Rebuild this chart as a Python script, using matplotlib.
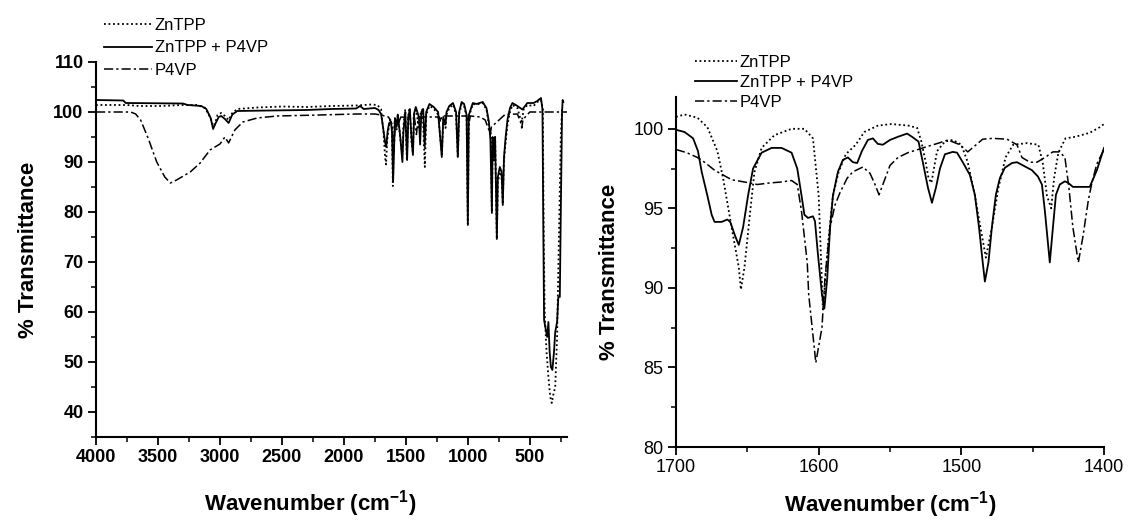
import numpy as np
import matplotlib.pyplot as plt
from matplotlib.ticker import MultipleLocator

plt.rcParams['font.family'] = ['Liberation Sans', 'DejaVu Sans']
plt.rcParams['mathtext.fontset'] = 'custom'
plt.rcParams['mathtext.rm'] = 'Liberation Sans:bold'
plt.rcParams['mathtext.default'] = 'rm'

labels = ['ZnTPP', 'ZnTPP + P4VP', 'P4VP']

# ---- full spectrum (left panel) ----
wn_zntpp = [4000, 3750, 3650, 3480, 3300, 3180, 3120, 3080, 3060, 3045, 3020, 2990, 2960, 2930,
            2900, 2860, 2700, 2500, 2300, 2100, 1900, 1780, 1730, 1700, 1690, 1680, 1668, 1660,
            1652, 1640, 1625, 1612, 1605, 1598, 1590, 1575, 1565, 1540, 1528, 1520, 1505, 1492,
            1482, 1470, 1455, 1443, 1435, 1420, 1390, 1380, 1365, 1347, 1335, 1310, 1280, 1240,
            1210, 1198, 1180, 1172, 1150, 1120, 1095, 1081, 1070, 1050, 1030, 1010, 1000, 992,
            960, 930, 880, 850, 830, 815, 806, 800, 790, 780, 766, 758, 740, 728, 718, 710, 695,
            680, 660, 640, 600, 580, 565, 550, 520, 470, 440, 410, 395, 388, 380, 365, 350, 335,
            323, 310, 295, 280, 265, 250, 240, 232]
t_zntpp = [101.4, 101.4, 101.2, 101.2, 101.4, 101.4, 100.8, 99.0, 97.6, 97.2, 99.4, 99.8, 99.2, 98.4,
           99.8, 100.6, 100.9, 101.1, 101.0, 101.2, 101.3, 101.5, 101.4, 100.6, 98.0, 96.0, 91.0, 89.5,
           94.0, 96.5, 98.5, 97.0, 85.2, 93.0, 98.5, 96.5, 99.5, 93.5, 91.5, 97.0, 100.5, 90.6,
           99.0, 100.8, 94.0, 91.8, 99.5, 100.4, 96.5, 100.0, 100.5, 89.0, 99.5, 101.2, 100.8, 99.5,
           91.5, 98.5, 96.8, 99.5, 100.8, 101.5, 99.5, 91.0, 99.6, 101.6, 101.2, 99.0, 77.6, 99.0,
           101.6, 101.5, 101.8, 100.5, 97.5, 96.0, 80.0, 94.0, 90.0, 95.0, 74.6, 86.0, 88.0, 87.0, 81.6, 90.0, 94.0,
           97.5, 100.0, 101.4, 100.8, 99.0, 98.0, 100.5, 101.4, 101.2, 102.0, 102.4, 100.5, 75.0, 60.0, 52.0, 47.0, 43.0,
           41.8, 43.5, 45.0, 55.0, 75.0, 95.0, 100.5, 101.0]

wn_mix = [4000, 3780, 3760, 3300, 3260, 3150, 3110, 3075, 3055, 3040, 3010, 2990, 2960, 2930,
          2900, 2860, 2600, 2300, 2100, 1900, 1870, 1840, 1750, 1720, 1700, 1690, 1668, 1658,
          1648, 1635, 1620, 1612, 1603, 1596, 1588, 1575, 1565, 1545, 1528, 1520, 1505, 1490,
          1480, 1468, 1455, 1443, 1433, 1420, 1395, 1385, 1375, 1360, 1348, 1336, 1310, 1275,
          1240, 1210, 1198, 1180, 1172, 1150, 1120, 1095, 1081, 1070, 1050, 1030, 1010, 1000,
          992, 960, 930, 880, 850, 830, 818, 806, 800, 790, 780, 766, 758, 742, 728, 718, 708,
          695, 680, 660, 640, 600, 560, 520, 470, 440, 410, 398, 392, 385, 375, 360, 350, 340,
          330, 318, 305, 295, 280, 270, 258, 250, 240, 235, 230]
t_mix = [102.4, 102.3, 101.8, 101.7, 101.4, 101.2, 100.6, 98.8, 96.6, 97.5, 99.0, 99.2, 98.6, 97.8,
         99.5, 100.2, 100.3, 100.4, 100.6, 100.7, 101.2, 100.6, 100.8, 100.4, 99.6, 98.0, 94.0, 93.0,
         96.0, 97.8, 98.0, 96.0, 86.0, 92.0, 98.8, 97.0, 99.5, 95.0, 90.0, 96.0, 100.0, 90.4,
         99.0, 100.6, 95.0, 91.4, 99.8, 101.0, 99.0, 93.5, 100.0, 100.6, 93.0, 100.0, 101.6, 101.0,
         100.0, 91.0, 99.0, 97.5, 100.0, 101.2, 101.8, 100.0, 91.0, 100.0, 102.0, 101.6, 99.4, 77.4,
         99.4, 101.8, 101.6, 102.0, 100.8, 98.0, 94.5, 79.8, 95.0, 91.0, 95.0, 74.6, 87.0, 89.0, 88.0, 81.4, 91.0,
         95.0, 98.5, 100.8, 101.8, 101.2, 100.5, 101.8, 101.8, 102.2, 102.8, 100.5, 80.0, 58.4, 57.0, 55.0, 58.0, 52.0,
         49.0, 48.4, 52.0, 56.0, 58.0, 63.0, 63.0, 80.0, 100.0, 102.4, 102.0]

wn_p4vp = [4000, 3720, 3680, 3640, 3580, 3510, 3445, 3400, 3350, 3240, 3160, 3080, 3000, 2960,
           2930, 2880, 2815, 2700, 2540, 2200, 1900, 1750, 1700, 1640, 1610, 1597, 1585, 1557,
           1540, 1430, 1415, 1400, 1230, 1220, 1210, 1010, 993, 980, 900, 860, 830, 820, 810,
           700, 600, 575, 565, 555, 500, 200]
t_p4vp = [100.0, 100.0, 99.6, 98.4, 94.8, 90.0, 87.0, 85.8, 86.4, 88.0, 89.8, 92.4, 93.6, 95.0,
          93.8, 96.4, 98.0, 98.8, 99.2, 99.4, 99.6, 99.6, 99.4, 99.0, 97.5, 92.0, 98.0, 98.0,
          99.0, 98.8, 95.5, 99.0, 99.0, 98.0, 99.2, 99.2, 97.5, 99.2, 99.0, 98.4, 96.4, 95.5, 97.0,
          99.5, 99.6, 98.0, 96.8, 98.5, 100.0, 100.0]

# ---- expanded region 1700-1400 (right panel) ----
wn_zntpp_z = [1700, 1694, 1685, 1678, 1671, 1667, 1661, 1656, 1654.5, 1652, 1648, 1645, 1640, 1631,
              1619, 1610, 1604, 1600, 1597, 1593.5, 1590, 1586, 1581, 1574, 1568, 1558.5, 1549, 1537,
              1531, 1528, 1525, 1523, 1521, 1517, 1511.5, 1506, 1500, 1495.5, 1490.5, 1485.6, 1482.8,
              1478.6, 1474, 1469, 1463.7, 1454, 1446, 1443, 1440, 1437, 1435, 1432, 1427, 1420, 1410,
              1403, 1400]
t_zntpp_z = [100.75, 100.9, 100.7, 100.1, 98.6, 96.9, 93.8, 91.3, 89.9, 91.3, 94.8, 97.3, 98.8, 99.6,
             100.0, 100.0, 99.4, 95.8, 88.6, 92.7, 95.8, 97.3, 98.4, 99.0, 99.8, 100.2, 100.3, 100.2,
             100.06, 99.2, 97.9, 96.9, 96.6, 98.6, 99.2, 99.3, 99.0, 97.9, 95.8, 93.3, 91.9,
             93.8, 96.3, 98.2, 99.0, 99.1, 99.0, 97.9, 95.8, 95.0, 96.9, 98.5, 99.4, 99.5, 99.75,
             100.1, 100.3]

wn_mix_z = [1700, 1694, 1688, 1684.6, 1682, 1678, 1675, 1673, 1668, 1664, 1662, 1658.7, 1656, 1653,
            1649.5, 1646, 1640, 1633, 1626, 1619, 1615, 1612, 1610, 1607.5, 1604, 1602.6, 1600.5,
            1597.7, 1596, 1594, 1592, 1590, 1586.5, 1583, 1579.5, 1576, 1573, 1569.7, 1565.5, 1562,
            1558.5, 1555, 1550, 1544.4, 1538, 1534.6, 1530, 1527, 1523.4, 1520.6, 1517.8, 1515,
            1511.5, 1506, 1503, 1499, 1494, 1490.5, 1487.6, 1485, 1483.5, 1481, 1478.6, 1475.8, 1473,
            1469.5, 1464.5, 1461, 1456.8, 1450.5, 1446.3, 1443.5, 1441.4, 1438, 1435.8, 1433.7, 1431,
            1427.4, 1425, 1421.8, 1417, 1410, 1405, 1400]
t_mix_z = [99.94, 99.8, 99.4, 98.6, 97.3, 95.8, 94.6, 94.15, 94.15, 94.3, 94.15, 93.3, 92.7, 93.8,
           95.8, 97.5, 98.5, 98.8, 98.8, 98.5, 97.5, 95.8, 94.6, 94.4, 94.5, 94.2, 92.1,
           89.6, 88.7, 90.6, 93.8, 95.8, 97.3, 98.05, 98.2, 97.9, 97.85, 98.6, 99.3, 99.4,
           99.05, 99.0, 99.3, 99.5, 99.7, 99.5, 99.2, 97.9, 96.3, 95.35, 96.3, 97.5,
           98.4, 98.55, 98.5, 97.9, 97.1, 95.85, 93.8, 91.6, 90.4, 91.6, 93.8, 95.85, 96.9,
           97.55, 97.85, 97.9, 97.7, 97.4, 97.0, 96.5, 94.8, 91.6, 93.8, 95.85, 96.5,
           96.7, 96.6, 96.35, 96.35, 96.35, 97.4, 98.8]

wn_p4vp_z = [1700, 1692.5, 1685, 1680, 1673, 1667, 1661, 1651.6, 1643, 1634, 1627, 1619, 1615, 1612,
             1608, 1607, 1602, 1597.7, 1595.6, 1592, 1588.6, 1585, 1580, 1576, 1569, 1564, 1560.5,
             1557.7, 1555, 1550, 1544.4, 1537.4, 1530.4, 1523.4, 1516, 1509.4, 1501, 1495.5, 1485,
             1478, 1468, 1461, 1457.5, 1452, 1447, 1441.4, 1435.8, 1431, 1427.4, 1424.6, 1421.8,
             1418, 1414.8, 1411, 1408.5, 1405, 1400]
t_p4vp_z = [98.7, 98.5, 98.2, 97.9, 97.4, 97.1, 96.8, 96.65, 96.5, 96.6, 96.65, 96.75, 96.5, 94.8,
            91.6, 89.6, 85.3, 87.5, 90.6, 93.8, 95.2, 96.0, 96.9, 97.3, 97.6, 97.2, 96.5,
            95.85, 96.5, 97.7, 98.2, 98.5, 98.7, 98.9, 99.1, 99.3, 99.0, 98.55, 99.35,
            99.4, 99.35, 99.0, 98.2, 97.9, 97.9, 98.2, 98.55, 98.55, 98.2, 96.3, 93.8,
            91.6, 93.2, 95.5, 96.6, 97.8, 98.7]

styles = [dict(ls=(0, (1, 1.5)), lw=1.3), dict(ls='-', lw=1.3), dict(ls=(0, (6, 2, 1.5, 2)), lw=1.1)]

fig = plt.figure(figsize=(11.33, 5.2), dpi=100)
W, H = 1133, 520
ax1 = fig.add_axes([96 / W, 1 - 437 / H, (567 - 96) / W, (437 - 62) / H])
ax2 = fig.add_axes([676 / W, 1 - 447 / H, (1104 - 676) / W, (447 - 97) / H])

for x, y, st, lab in zip([wn_zntpp, wn_mix, wn_p4vp], [t_zntpp, t_mix, t_p4vp], styles, labels):
    ax1.plot(x, y, color='black', label=lab, **st)
for x, y, st, lab in zip([wn_zntpp_z, wn_mix_z, wn_p4vp_z], [t_zntpp_z, t_mix_z, t_p4vp_z], styles, labels):
    ax2.plot(x, y, color='black', label=lab, **st)

# Left panel axes
ax1.set_xlim(4000, 200)
ax1.set_ylim(35, 110)
ax1.xaxis.set_major_locator(MultipleLocator(500))
ax1.xaxis.set_minor_locator(MultipleLocator(250))
ax1.yaxis.set_major_locator(MultipleLocator(10))
ax1.yaxis.set_minor_locator(MultipleLocator(5))
ax1.set_xticks([4000, 3500, 3000, 2500, 2000, 1500, 1000, 500])

# Right panel axes
ax2.set_xlim(1700, 1400)
ax2.set_ylim(80, 102)
ax2.xaxis.set_major_locator(MultipleLocator(100))
ax2.xaxis.set_minor_locator(MultipleLocator(50))
ax2.yaxis.set_major_locator(MultipleLocator(5))
ax2.yaxis.set_minor_locator(MultipleLocator(2.5))

for ax, bold in [(ax1, True), (ax2, False)]:
    for s in ['top', 'right']:
        ax.spines[s].set_visible(False)
    for s in ['left', 'bottom']:
        ax.spines[s].set_linewidth(1.5)
    ax.tick_params(which='major', direction='out', length=6, width=1.3, labelsize=13, pad=3)
    ax.tick_params(which='minor', direction='out', length=3.5, width=1.1)
    for lbl in ax.get_xticklabels() + ax.get_yticklabels():
        lbl.set_fontweight('bold' if bold else 'normal')
    ax.set_xlabel('Wavenumber (cm$^{-1}$)', fontsize=16, fontweight='bold')
    ax.set_ylabel('% Transmittance', fontsize=16, fontweight='bold')

ax1.xaxis.set_label_coords(0.455, -0.135)
ax1.yaxis.set_label_coords(-0.12, 0.5)
ax2.xaxis.set_label_coords(0.5, -0.12)
ax2.yaxis.set_label_coords(-0.13, 0.5)

ax1.legend(frameon=False, loc='upper left', bbox_to_anchor=(104 / W, 1 - 18 / H),
           bbox_transform=fig.transFigure, fontsize=12, handlelength=2.9, handletextpad=0.15,
           labelspacing=0.45, borderpad=0, borderaxespad=0)
ax2.legend(frameon=False, loc='upper left', bbox_to_anchor=(695 / W, 1 - 55 / H),
           bbox_transform=fig.transFigure, fontsize=12, handlelength=2.5, handletextpad=0.2,
           labelspacing=0.3, borderpad=0, borderaxespad=0)

fig.savefig('out.png', dpi=100)
